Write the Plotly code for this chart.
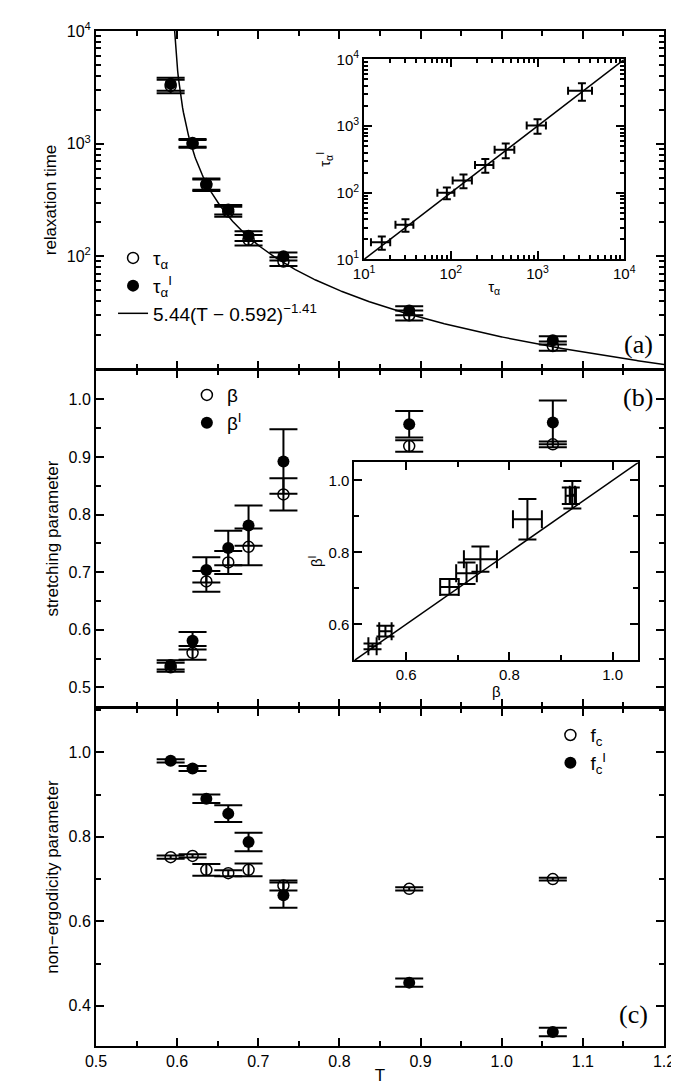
import numpy as np
import plotly.graph_objects as go

T = [0.592, 0.619, 0.636, 0.663, 0.688, 0.731, 0.886, 1.063]
tau = [3250, 1000, 430, 250, 140, 90, 30, 16]
tau_err = [450, 80, 50, 25, 15, 8, 3, 1.5]
tau_p = [3400, 1020, 440, 260, 152, 100, 33, 18]
tau_p_err = [450, 80, 50, 25, 15, 8, 3, 1.5]
tau_x_err_inset = [1000, 250, 110, 60, 35, 20, 7, 4]
tau_y_err_inset = [1000, 250, 110, 60, 35, 20, 7, 4]

beta = [0.535, 0.560, 0.684, 0.717, 0.744, 0.835, 0.919, 0.922]
beta_err = [0.008, 0.012, 0.018, 0.02, 0.032, 0.028, 0.01, 0.005]
beta_p = [0.539, 0.581, 0.704, 0.742, 0.781, 0.892, 0.957, 0.960]
beta_p_err = [0.008, 0.015, 0.022, 0.03, 0.035, 0.056, 0.023, 0.038]

fc = [0.752, 0.755, 0.722, 0.714, 0.722, 0.685, 0.677, 0.700]
fc_err = [0.004, 0.004, 0.014, 0.007, 0.015, 0.012, 0.004, 0.003]
fc_p = [0.980, 0.962, 0.890, 0.855, 0.788, 0.662, 0.455, 0.338]
fc_p_err = [0.004, 0.006, 0.01, 0.02, 0.022, 0.03, 0.01, 0.01]

fit_A, fit_T0, fit_exp = 5.44, 0.592, -1.41
T_fit = np.linspace(0.5925, 1.2, 600)
tau_fit = fit_A * (T_fit - fit_T0) ** fit_exp

FONT = "Liberation Sans"
BLK = "black"
TF = dict(family=FONT, size=17, color=BLK)

fig = go.Figure()

def ebar(arr, w=10, th=2):
    return dict(type="data", array=arr, visible=True, color=BLK, thickness=th, width=w)

def opn(): return dict(symbol="circle-open", size=11, color=BLK, line=dict(width=1.5, color=BLK))
def fil(): return dict(symbol="circle", size=12, color=BLK)

fig.add_trace(go.Scatter(x=T, y=tau, mode="markers", marker=opn(), error_y=ebar(tau_err, 14),
                         name="τ<sub>α</sub>", xaxis="x", yaxis="y", legend="legend"))
fig.add_trace(go.Scatter(x=T, y=tau_p, mode="markers", marker=fil(), error_y=ebar(tau_p_err, 14),
                         name="τ<sub>α</sub><sup>I</sup>", xaxis="x", yaxis="y", legend="legend"))
fig.add_trace(go.Scatter(x=T_fit, y=tau_fit, mode="lines", line=dict(color=BLK, width=1.5),
                         name="5.44(T − 0.592)<sup>−1.41</sup>", xaxis="x", yaxis="y", legend="legend"))
fig.add_trace(go.Scatter(x=tau, y=tau_p, mode="markers", marker=dict(size=1, color=BLK),
                         error_x=ebar(tau_x_err_inset, 4), error_y=ebar(tau_y_err_inset, 4),
                         showlegend=False, xaxis="x4", yaxis="y4"))
fig.add_trace(go.Scatter(x=[10, 10000], y=[10, 10000], mode="lines", line=dict(color=BLK, width=1.5),
                         showlegend=False, xaxis="x4", yaxis="y4"))
fig.add_trace(go.Scatter(x=T, y=beta, mode="markers", marker=opn(), error_y=ebar(beta_err, 14),
                         name="β", xaxis="x2", yaxis="y2", legend="legend2"))
fig.add_trace(go.Scatter(x=T, y=beta_p, mode="markers", marker=fil(), error_y=ebar(beta_p_err, 14),
                         name="β<sup>I</sup>", xaxis="x2", yaxis="y2", legend="legend2"))
fig.add_trace(go.Scatter(x=beta, y=beta_p, mode="markers", marker=dict(size=1, color=BLK),
                         error_x=ebar(beta_err, 9), error_y=ebar(beta_p_err, 9),
                         showlegend=False, xaxis="x5", yaxis="y5"))
fig.add_trace(go.Scatter(x=[0.5, 1.05], y=[0.5, 1.05], mode="lines", line=dict(color=BLK, width=1.5),
                         showlegend=False, xaxis="x5", yaxis="y5"))
fig.add_trace(go.Scatter(x=T, y=fc, mode="markers", marker=opn(), error_y=ebar(fc_err, 14),
                         name="f<sub>c</sub>", xaxis="x3", yaxis="y3", legend="legend3"))
fig.add_trace(go.Scatter(x=T, y=fc_p, mode="markers", marker=fil(), error_y=ebar(fc_p_err, 14),
                         name="f<sub>c</sub><sup>I</sup>", xaxis="x3", yaxis="y3", legend="legend3"))

axcommon = dict(showline=True, linecolor=BLK, linewidth=2, mirror="ticks", ticks="inside",
                ticklen=8, tickwidth=1.5, tickcolor=BLK, showgrid=False, zeroline=False,
                tickfont=dict(family=FONT, size=16, color=BLK))
xt = dict(axcommon, range=[0.5, 1.2], tickvals=[0.5, 0.6, 0.7, 0.8, 0.9, 1.0, 1.1, 1.2],
          minor=dict(ticks="inside", ticklen=5, dtick=0.05, tickcolor=BLK, tickwidth=1.5))
logminor = [a * 10 ** b for b in (1, 2, 3) for a in range(2, 10)]
inset_tf = dict(family=FONT, size=15, color=BLK)

fig.update_layout(
    width=679, height=1092, plot_bgcolor="white", paper_bgcolor="white",
    margin=dict(l=88, r=20, t=20, b=54),
    xaxis=dict(xt, domain=[0, 1], anchor="y", showticklabels=False),
    xaxis2=dict(xt, domain=[0, 1], anchor="y2", showticklabels=False),
    xaxis3=dict(xt, domain=[0, 1], anchor="y3", ticktext=["0.5", "0.6", "0.7", "0.8", "0.9", "1.0", "1.1", "1.2"],
                title=dict(text="T", font=TF, standoff=0)),
    yaxis=dict(axcommon, type="log", range=[1, 4], domain=[0.667, 1.0], anchor="x",
               tickvals=[100, 1000, 10000], ticktext=["10<sup>2</sup>", "10<sup>3</sup>", "10<sup>4</sup>"],
               minor=dict(ticks="inside", ticklen=5, tickcolor=BLK, tickwidth=1.5, tickvals=logminor),
               title=dict(text="relaxation time", font=TF, standoff=6)),
    yaxis2=dict(axcommon, range=[0.466, 1.051], domain=[0.334, 0.666], anchor="x2",
                tickvals=[0.5, 0.6, 0.7, 0.8, 0.9, 1.0], ticktext=["0.5", "0.6", "0.7", "0.8", "0.9", "1.0"],
                minor=dict(ticks="inside", ticklen=5, dtick=0.05, tickcolor=BLK, tickwidth=1.5),
                title=dict(text="stretching parameter", font=TF, standoff=6)),
    yaxis3=dict(axcommon, range=[0.305, 1.105], domain=[0, 0.333], anchor="x3",
                tickvals=[0.4, 0.6, 0.8, 1.0], ticktext=["0.4", "0.6", "0.8", "1.0"],
                minor=dict(ticks="inside", ticklen=5, dtick=0.1, tickcolor=BLK, tickwidth=1.5),
                title=dict(text="non−ergodicity parameter", font=TF, standoff=6)),
    xaxis4=dict(axcommon, type="log", range=[1, 4], domain=[0.472, 0.93], anchor="y4",
                tickvals=[10, 100, 1000, 10000], tickfont=inset_tf,
                ticktext=["10<sup>1</sup>", "10<sup>2</sup>", "10<sup>3</sup>", "10<sup>4</sup>"],
                minor=dict(ticks="inside", ticklen=4, tickcolor=BLK, tickvals=logminor),
                title=dict(text="τ<sub>α</sub>", font=inset_tf, standoff=0)),
    yaxis4=dict(axcommon, type="log", range=[1, 4], domain=[0.775, 0.972], anchor="x4",
                tickvals=[10, 100, 1000, 10000], tickfont=inset_tf,
                ticktext=["10<sup>1</sup>", "10<sup>2</sup>", "10<sup>3</sup>", "10<sup>4</sup>"],
                minor=dict(ticks="inside", ticklen=4, tickcolor=BLK, tickvals=logminor),
                title=dict(text="τ<sub>α</sub><sup>I</sup>", font=inset_tf, standoff=2)),
    xaxis5=dict(axcommon, range=[0.5, 1.05], domain=[0.455, 0.955], anchor="y5",
                tickvals=[0.6, 0.8, 1.0], ticktext=["0.6", "0.8", "1.0"], tickfont=inset_tf,
                minor=dict(ticks="inside", ticklen=5, dtick=0.1, tickcolor=BLK),
                title=dict(text="β", font=inset_tf, standoff=0)),
    yaxis5=dict(axcommon, range=[0.5, 1.05], domain=[0.38, 0.575], anchor="x5",
                tickvals=[0.6, 0.8, 1.0], ticktext=["0.6", "0.8", "1.0"], tickfont=inset_tf,
                minor=dict(ticks="inside", ticklen=5, dtick=0.1, tickcolor=BLK),
                title=dict(text="β<sup>I</sup>", font=inset_tf, standoff=2)),
    legend=dict(x=0.03, y=0.795, xanchor="left", yanchor="top", bgcolor="rgba(0,0,0,0)",
                font=dict(family=FONT, size=19, color=BLK), tracegroupgap=6),
    legend2=dict(x=0.16, y=0.66, xanchor="left", yanchor="top", bgcolor="rgba(0,0,0,0)",
                 font=dict(family=FONT, size=19, color=BLK)),
    legend3=dict(x=0.8, y=0.325, xanchor="left", yanchor="top", bgcolor="rgba(0,0,0,0)",
                 font=dict(family=FONT, size=19, color=BLK)),
    annotations=[
        dict(text="(a)", x=0.985, y=0.675, xref="paper", yref="paper", xanchor="right", yanchor="bottom",
             showarrow=False, font=dict(family="Liberation Serif", size=26, color=BLK)),
        dict(text="(b)", x=0.985, y=0.655, xref="paper", yref="paper", xanchor="right", yanchor="top",
             showarrow=False, font=dict(family="Liberation Serif", size=26, color=BLK)),
        dict(text="(c)", x=0.975, y=0.015, xref="paper", yref="paper", xanchor="right", yanchor="bottom",
             showarrow=False, font=dict(family="Liberation Serif", size=26, color=BLK)),
    ],
)
fig.write_html("out.html")
